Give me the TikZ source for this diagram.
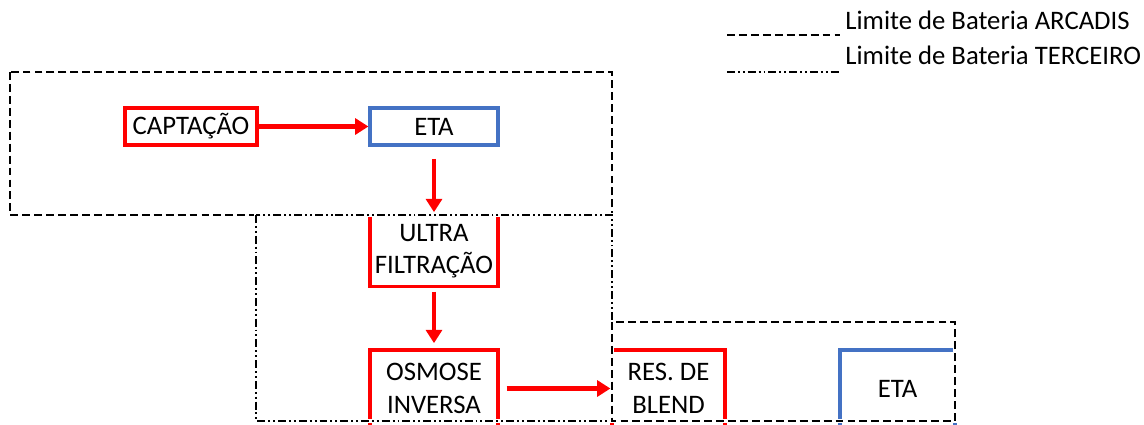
\documentclass[tikz,border=0pt]{standalone}
\usepackage{fontspec}
\setmainfont{Carlito}
\usetikzlibrary{arrows.meta}
\definecolor{myred}{RGB}{255,0,0}
\definecolor{myblue}{RGB}{68,114,196}
\tikzset{
  redbox/.style={draw=myred, line width=1.8pt, inner sep=0pt, align=center},
  bluebox/.style={draw=myblue, line width=1.8pt, inner sep=0pt, align=center},
  under/.style={preaction={draw=white, solid, line width=2pt}},
  arcadis/.style={draw=black, line width=1.2pt, dash pattern=on 4.5pt off 2.3pt},
  terceiro/.style={draw=black, line width=1.2pt, dash pattern=on 4.5pt off 1.7pt on 1.1pt off 1.7pt on 1.1pt off 1.7pt},
  flow/.style={draw=myred, line width=2.4pt, -{Triangle[length=7.5pt,width=9pt]}},
  lbl/.style={font=\fontsize{15.2}{18.5}\selectfont, align=center, inner sep=0pt}
}
\begin{document}
\begin{tikzpicture}[x=0.02cm,y=-0.02cm]
\useasboundingbox (0,0) rectangle (1144,424);
\clip (0,0) rectangle (1144,424);
% boxes
\node[redbox, minimum width=132*0.02cm, minimum height=37*0.02cm, lbl] (capt) at (191,126.5) {CAPTAÇÃO};
\node[bluebox, minimum width=128*0.02cm, minimum height=37*0.02cm, lbl] (eta1) at (434,126.5) {ETA};
\node[redbox, minimum width=128*0.02cm, minimum height=71*0.02cm, lbl] (ultra) at (434,251) {ULTRA\\FILTRAÇÃO};
\node[redbox, minimum width=128*0.02cm, minimum height=77*0.02cm, lbl] (osmo) at (434,388.5) {OSMOSE\\INVERSA};
\node[redbox, minimum width=113*0.02cm, minimum height=77*0.02cm, lbl] (res) at (668.5,388.5) {RES. DE\\BLEND};
\node[bluebox, minimum width=115*0.02cm, minimum height=77*0.02cm, lbl] (eta2) at (897.5,388.5) {ETA};
% boundaries
\coordinate (a1) at (10,72);
\coordinate (a2) at (612,215);
\coordinate (t1) at (256,215);
\coordinate (t2) at (612,421);
\coordinate (b1) at (612,322);
\coordinate (b2) at (955,421);
\draw[arcadis, under] (a1) rectangle (a2);
\draw[terceiro, under] (t1) rectangle (t2);
\draw[arcadis, under] (b1) rectangle (b2);
% connectors
\draw[flow] ([yshift=-7pt]eta1.south) -- ([yshift=1pt]eta1.south |- ultra.north);
\draw[flow] (capt.east) -- (eta1.west);
\draw[flow] ([yshift=-2pt]ultra.south) -- ([yshift=3pt]osmo.north);
\draw[flow] ([xshift=4pt]osmo.east) -- (res.west);
% legend
\coordinate (l1a) at (727,35);
\coordinate (l1b) at (840,35);
\coordinate (l2a) at (727,72);
\coordinate (l2b) at (840,72);
\draw[arcadis] (l1a) -- (l1b);
\draw[terceiro] (l2a) -- (l2b);
\node[lbl, anchor=west] (leg1) at (845,20) {Limite de Bateria ARCADIS};
\node[lbl, anchor=west] (leg2) at (845,55) {Limite de Bateria TERCEIRO};
\end{tikzpicture}
\end{document}
